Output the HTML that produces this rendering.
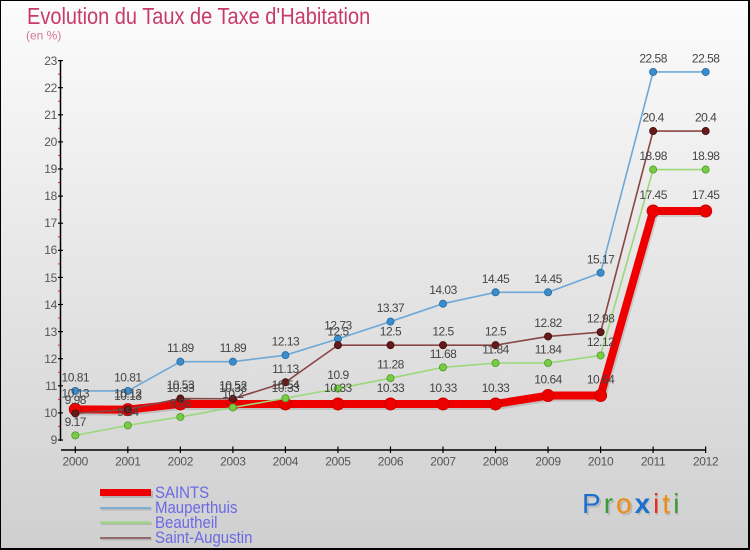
<!DOCTYPE html>
<html>
<head>
<meta charset="utf-8">
<style>
html,body{margin:0;padding:0;}
body{width:750px;height:550px;overflow:hidden;font-family:"Liberation Sans",sans-serif;}
svg{display:block;}
</style>
</head>
<body>
<svg width="750" height="550" viewBox="0 0 750 550" xmlns="http://www.w3.org/2000/svg" font-family="Liberation Sans, sans-serif">
  <defs>
    <linearGradient id="bg" x1="0" y1="0" x2="0" y2="1">
      <stop offset="0" stop-color="#fcfcfc"/>
      <stop offset="1" stop-color="#cfcfcf"/>
    </linearGradient>
  </defs>
  <rect x="0" y="0" width="750" height="550" fill="url(#bg)"/>
  <!-- border -->
  <rect x="0" y="0" width="750" height="1" fill="#000"/>
  <rect x="0" y="0" width="1" height="550" fill="#000"/>
  <rect x="748" y="0" width="2" height="550" fill="#000"/>
  <rect x="0" y="548" width="750" height="2" fill="#000"/>

  <!-- title -->
  <text transform="translate(27,24) scale(1,1.15)" font-size="20" fill="#c93a6c">Evolution du Taux de Taxe d'Habitation</text>
  <text x="26" y="39.5" font-size="12" fill="#d6759a">(en %)</text>

  <!-- Y axis -->
  <line x1="60.5" y1="60" x2="60.5" y2="441" stroke="#000" stroke-width="1.5"/>
  <g stroke="#000" stroke-width="1.2">
    <line x1="58" y1="60.6" x2="63" y2="60.6"/>
    <line x1="58" y1="87.7" x2="63" y2="87.7"/>
    <line x1="58" y1="114.8" x2="63" y2="114.8"/>
    <line x1="58" y1="141.9" x2="63" y2="141.9"/>
    <line x1="58" y1="169" x2="63" y2="169"/>
    <line x1="58" y1="196.1" x2="63" y2="196.1"/>
    <line x1="58" y1="223.2" x2="63" y2="223.2"/>
    <line x1="58" y1="250.3" x2="63" y2="250.3"/>
    <line x1="58" y1="277.4" x2="63" y2="277.4"/>
    <line x1="58" y1="304.5" x2="63" y2="304.5"/>
    <line x1="58" y1="331.6" x2="63" y2="331.6"/>
    <line x1="58" y1="358.7" x2="63" y2="358.7"/>
    <line x1="58" y1="385.8" x2="63" y2="385.8"/>
    <line x1="58" y1="412.9" x2="63" y2="412.9"/>
    <line x1="58" y1="440" x2="63" y2="440"/>
  </g>
  <g stroke="#e83030" stroke-width="1.2">
    <line x1="58" y1="74.2" x2="60" y2="74.2"/>
    <line x1="58" y1="101.3" x2="60" y2="101.3"/>
    <line x1="58" y1="128.4" x2="60" y2="128.4"/>
    <line x1="58" y1="155.5" x2="60" y2="155.5"/>
    <line x1="58" y1="182.6" x2="60" y2="182.6"/>
    <line x1="58" y1="209.7" x2="60" y2="209.7"/>
    <line x1="58" y1="236.8" x2="60" y2="236.8"/>
    <line x1="58" y1="263.9" x2="60" y2="263.9"/>
    <line x1="58" y1="291" x2="60" y2="291"/>
    <line x1="58" y1="318.1" x2="60" y2="318.1"/>
    <line x1="58" y1="345.2" x2="60" y2="345.2"/>
    <line x1="58" y1="372.3" x2="60" y2="372.3"/>
    <line x1="58" y1="399.4" x2="60" y2="399.4"/>
    <line x1="58" y1="426.5" x2="60" y2="426.5"/>
  </g>
  <g font-size="12" fill="#555" text-anchor="end" letter-spacing="-0.3">
    <text x="57" y="65">23</text>
    <text x="57" y="92">22</text>
    <text x="57" y="119">21</text>
    <text x="57" y="146">20</text>
    <text x="57" y="173">19</text>
    <text x="57" y="200">18</text>
    <text x="57" y="227">17</text>
    <text x="57" y="254">16</text>
    <text x="57" y="282">15</text>
    <text x="57" y="309">14</text>
    <text x="57" y="336">13</text>
    <text x="57" y="363">12</text>
    <text x="57" y="390">11</text>
    <text x="57" y="417">10</text>
    <text x="57" y="444">9</text>
  </g>

  <!-- X axis -->
  <line x1="61" y1="450" x2="706" y2="450" stroke="#000" stroke-width="1.5"/>
  <g stroke="#000" stroke-width="1.2">
    <line x1="75.3" y1="446.5" x2="75.3" y2="453"/>
    <line x1="127.83" y1="446.5" x2="127.83" y2="453"/>
    <line x1="180.36" y1="446.5" x2="180.36" y2="453"/>
    <line x1="232.89" y1="446.5" x2="232.89" y2="453"/>
    <line x1="285.42" y1="446.5" x2="285.42" y2="453"/>
    <line x1="337.95" y1="446.5" x2="337.95" y2="453"/>
    <line x1="390.48" y1="446.5" x2="390.48" y2="453"/>
    <line x1="443.01" y1="446.5" x2="443.01" y2="453"/>
    <line x1="495.54" y1="446.5" x2="495.54" y2="453"/>
    <line x1="548.07" y1="446.5" x2="548.07" y2="453"/>
    <line x1="600.6" y1="446.5" x2="600.6" y2="453"/>
    <line x1="653.13" y1="446.5" x2="653.13" y2="453"/>
    <line x1="705.66" y1="446.5" x2="705.66" y2="453"/>
  </g>
  <g font-size="12" fill="#555" text-anchor="middle" letter-spacing="-0.3">
    <text x="75.3" y="465.5">2000</text>
    <text x="127.83" y="465.5">2001</text>
    <text x="180.36" y="465.5">2002</text>
    <text x="232.89" y="465.5">2003</text>
    <text x="285.42" y="465.5">2004</text>
    <text x="337.95" y="465.5">2005</text>
    <text x="390.48" y="465.5">2006</text>
    <text x="443.01" y="465.5">2007</text>
    <text x="495.54" y="465.5">2008</text>
    <text x="548.07" y="465.5">2009</text>
    <text x="600.6" y="465.5">2010</text>
    <text x="653.13" y="465.5">2011</text>
    <text x="705.66" y="465.5">2012</text>
  </g>

  <!-- SAINTS (red) -->
  <polyline fill="none" stroke="#000" stroke-opacity="0.12" stroke-width="8" stroke-linejoin="round" transform="translate(1.5,2)"
    points="75.3,409.38 127.83,409.65 180.36,403.96 232.89,403.96 285.42,403.96 337.95,403.96 390.48,403.96 443.01,403.96 495.54,403.96 548.07,395.56 600.6,395.56 653.13,211 705.66,211"/>
  <polyline fill="none" stroke="#ee0000" stroke-width="8" stroke-linejoin="round"
    points="75.3,409.38 127.83,409.65 180.36,403.96 232.89,403.96 285.42,403.96 337.95,403.96 390.48,403.96 443.01,403.96 495.54,403.96 548.07,395.56 600.6,395.56 653.13,211 705.66,211"/>
  <g fill="#ee0000" stroke="#cc0000" stroke-width="1">
    <circle cx="75.3" cy="409.38" r="6"/>
    <circle cx="127.83" cy="409.65" r="6"/>
    <circle cx="180.36" cy="403.96" r="6"/>
    <circle cx="232.89" cy="403.96" r="6"/>
    <circle cx="285.42" cy="403.96" r="6"/>
    <circle cx="337.95" cy="403.96" r="6"/>
    <circle cx="390.48" cy="403.96" r="6"/>
    <circle cx="443.01" cy="403.96" r="6"/>
    <circle cx="495.54" cy="403.96" r="6"/>
    <circle cx="548.07" cy="395.56" r="6"/>
    <circle cx="600.6" cy="395.56" r="6"/>
    <circle cx="653.13" cy="211" r="6"/>
    <circle cx="705.66" cy="211" r="6"/>
  </g>

  <!-- Mauperthuis (blue) -->
  <polyline fill="none" stroke="#6fa8d6" stroke-width="1.6"
    points="75.3,390.95 127.83,390.95 180.36,361.68 232.89,361.68 285.42,355.18 337.95,338.92 390.48,321.57 443.01,303.69 495.54,292.3 548.07,292.3 600.6,272.79 653.13,71.98 705.66,71.98"/>
  <g fill="#3a8ccc" stroke="#2a6a9a" stroke-width="0.8">
    <circle cx="75.3" cy="390.95" r="3.6"/>
    <circle cx="127.83" cy="390.95" r="3.6"/>
    <circle cx="180.36" cy="361.68" r="3.6"/>
    <circle cx="232.89" cy="361.68" r="3.6"/>
    <circle cx="285.42" cy="355.18" r="3.6"/>
    <circle cx="337.95" cy="338.92" r="3.6"/>
    <circle cx="390.48" cy="321.57" r="3.6"/>
    <circle cx="443.01" cy="303.69" r="3.6"/>
    <circle cx="495.54" cy="292.3" r="3.6"/>
    <circle cx="548.07" cy="292.3" r="3.6"/>
    <circle cx="600.6" cy="272.79" r="3.6"/>
    <circle cx="653.13" cy="71.98" r="3.6"/>
    <circle cx="705.66" cy="71.98" r="3.6"/>
  </g>

  <!-- Beautheil (green) -->
  <polyline fill="none" stroke="#9ad87a" stroke-width="1.6"
    points="75.3,435.39 127.83,425.37 180.36,416.96 232.89,407.48 285.42,398.27 337.95,388.51 390.48,378.21 443.01,367.37 495.54,363.04 548.07,363.04 600.6,355.45 653.13,169.54 705.66,169.54"/>
  <g fill="#77cc44" stroke="#4f9a2a" stroke-width="0.8">
    <circle cx="75.3" cy="435.39" r="3.6"/>
    <circle cx="127.83" cy="425.37" r="3.6"/>
    <circle cx="180.36" cy="416.96" r="3.6"/>
    <circle cx="232.89" cy="407.48" r="3.6"/>
    <circle cx="285.42" cy="398.27" r="3.6"/>
    <circle cx="337.95" cy="388.51" r="3.6"/>
    <circle cx="390.48" cy="378.21" r="3.6"/>
    <circle cx="443.01" cy="367.37" r="3.6"/>
    <circle cx="495.54" cy="363.04" r="3.6"/>
    <circle cx="548.07" cy="363.04" r="3.6"/>
    <circle cx="600.6" cy="355.45" r="3.6"/>
    <circle cx="653.13" cy="169.54" r="3.6"/>
    <circle cx="705.66" cy="169.54" r="3.6"/>
  </g>

  <!-- Saint-Augustin (brown) -->
  <polyline fill="none" stroke="#8a4545" stroke-width="1.6"
    points="75.3,413.44 127.83,409.38 180.36,398.54 232.89,398.81 285.42,382.28 337.95,345.15 390.48,345.15 443.01,345.15 495.54,345.15 548.07,336.48 600.6,332.14 653.13,131.06 705.66,131.06"/>
  <g fill="#661a1a" stroke="#3e0c0c" stroke-width="0.8">
    <circle cx="75.3" cy="413.44" r="3.6"/>
    <circle cx="127.83" cy="409.38" r="3.6"/>
    <circle cx="180.36" cy="398.54" r="3.6"/>
    <circle cx="232.89" cy="398.81" r="3.6"/>
    <circle cx="285.42" cy="382.28" r="3.6"/>
    <circle cx="337.95" cy="345.15" r="3.6"/>
    <circle cx="390.48" cy="345.15" r="3.6"/>
    <circle cx="443.01" cy="345.15" r="3.6"/>
    <circle cx="495.54" cy="345.15" r="3.6"/>
    <circle cx="548.07" cy="336.48" r="3.6"/>
    <circle cx="600.6" cy="332.14" r="3.6"/>
    <circle cx="653.13" cy="131.06" r="3.6"/>
    <circle cx="705.66" cy="131.06" r="3.6"/>
  </g>

  <!-- data labels -->
  <g font-size="12" fill="#444" text-anchor="middle" letter-spacing="-0.5">
    <!-- SAINTS -->
    <text x="75.3" y="397.4">10.13</text>
    <text x="127.83" y="397.6">10.12</text>
    <text x="180.36" y="392">10.33</text>
    <text x="232.89" y="392">10.33</text>
    <text x="285.42" y="392">10.33</text>
    <text x="337.95" y="392">10.33</text>
    <text x="390.48" y="392">10.33</text>
    <text x="443.01" y="392">10.33</text>
    <text x="495.54" y="392">10.33</text>
    <text x="548.07" y="383.6">10.64</text>
    <text x="600.6" y="383.6">10.64</text>
    <text x="653.13" y="199">17.45</text>
    <text x="705.66" y="199">17.45</text>
    <!-- Mauperthuis -->
    <text x="75.3" y="381.5">10.81</text>
    <text x="127.83" y="381.5">10.81</text>
    <text x="180.36" y="352.2">11.89</text>
    <text x="232.89" y="352.2">11.89</text>
    <text x="285.42" y="345.7">12.13</text>
    <text x="337.95" y="329.4">12.73</text>
    <text x="390.48" y="312.1">13.37</text>
    <text x="443.01" y="294.2">14.03</text>
    <text x="495.54" y="282.8">14.45</text>
    <text x="548.07" y="282.8">14.45</text>
    <text x="600.6" y="263.3">15.17</text>
    <text x="653.13" y="62.5">22.58</text>
    <text x="705.66" y="62.5">22.58</text>
    <!-- Beautheil -->
    <text x="75.3" y="425.9">9.17</text>
    <text x="127.83" y="415.9">9.54</text>
    <text x="180.36" y="407.5">9.85</text>
    <text x="232.89" y="398">10.2</text>
    <text x="285.42" y="388.8">10.54</text>
    <text x="337.95" y="379">10.9</text>
    <text x="390.48" y="368.7">11.28</text>
    <text x="443.01" y="357.9">11.68</text>
    <text x="495.54" y="353.5">11.84</text>
    <text x="548.07" y="353.5">11.84</text>
    <text x="600.6" y="346">12.12</text>
    <text x="653.13" y="160">18.98</text>
    <text x="705.66" y="160">18.98</text>
    <!-- Saint-Augustin -->
    <text x="75.3" y="404">9.98</text>
    <text x="127.83" y="399.9">10.13</text>
    <text x="180.36" y="389">10.53</text>
    <text x="232.89" y="389.3">10.52</text>
    <text x="285.42" y="372.8">11.13</text>
    <text x="337.95" y="335.7">12.5</text>
    <text x="390.48" y="335.7">12.5</text>
    <text x="443.01" y="335.7">12.5</text>
    <text x="495.54" y="335.7">12.5</text>
    <text x="548.07" y="327">12.82</text>
    <text x="600.6" y="322.6">12.98</text>
    <text x="653.13" y="121.6">20.4</text>
    <text x="705.66" y="121.6">20.4</text>
  </g>

  <!-- legend -->
  <rect x="102" y="491" width="51" height="7" fill="#000" opacity="0.15"/>
  <rect x="100" y="489" width="51" height="7" fill="#ee0000"/>
  <line x1="101" y1="509.5" x2="152" y2="509.5" stroke="#000" stroke-opacity="0.12" stroke-width="2"/>
  <line x1="100" y1="508" x2="151" y2="508" stroke="#7aaed6" stroke-width="2"/>
  <line x1="101" y1="524" x2="152" y2="524" stroke="#000" stroke-opacity="0.12" stroke-width="2"/>
  <line x1="100" y1="522.5" x2="151" y2="522.5" stroke="#9ad87a" stroke-width="2"/>
  <line x1="101" y1="539.5" x2="152" y2="539.5" stroke="#000" stroke-opacity="0.12" stroke-width="2"/>
  <line x1="100" y1="538" x2="151" y2="538" stroke="#946a6a" stroke-width="2"/>
  <g font-size="15" fill="#6a6ae6">
    <text transform="translate(155,498) scale(1,1.12)">SAINTS</text>
    <text transform="translate(155,513) scale(1,1.12)">Mauperthuis</text>
    <text transform="translate(155,528) scale(1,1.12)">Beautheil</text>
    <text transform="translate(155,543) scale(1,1.12)">Saint-Augustin</text>
  </g>

  <!-- Proxiti logo -->
  <g font-size="28" letter-spacing="3">
    <text x="584" y="515" fill="#000" opacity="0.12">Proxiti</text>
    <text x="582" y="513"><tspan fill="#1a6fcf">P</tspan><tspan fill="#3a9a3a">r</tspan><tspan fill="#f08a10">o</tspan><tspan fill="#1a6fcf" font-weight="bold">x</tspan><tspan fill="#e83020">i</tspan><tspan fill="#f08a10">t</tspan><tspan fill="#3a9a3a">i</tspan></text>
  </g>
</svg>
</body>
</html>
